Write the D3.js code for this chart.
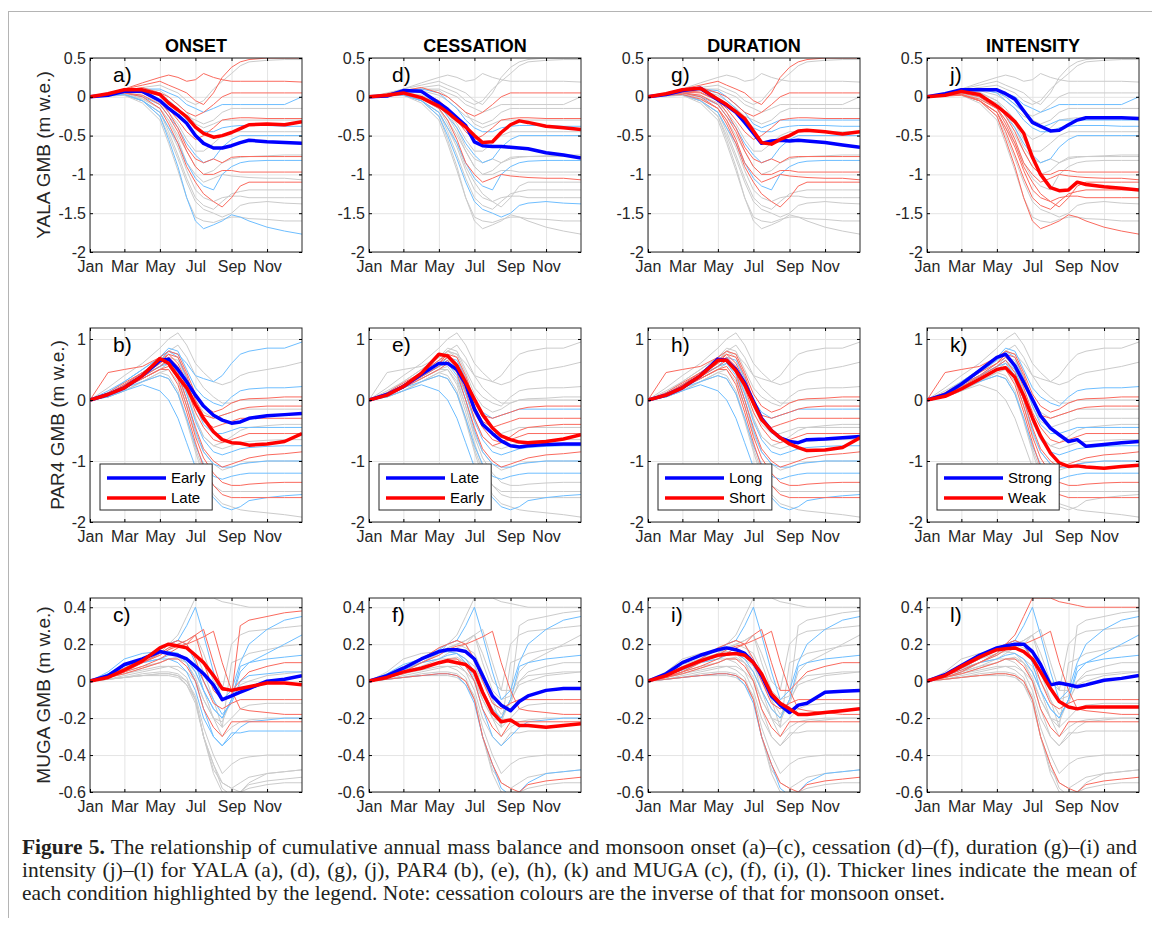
<!DOCTYPE html>
<html>
<head>
<meta charset="utf-8">
<script src="https://cdn.jsdelivr.net/npm/d3@7"></script>
<style>
    body { margin: 0; background: #fff; }
    svg text { font-family: "Liberation Sans", Arial, sans-serif; }
    svg text.cap { font-family: "Liberation Serif", "Times New Roman", serif; }
</style>
</head>
<body>
<svg id="fig" width="1152" height="926"></svg>
<script>

// sample days (day of year) shared by every series
var days = [ 1, 32, 60, 91, 121, 136, 152, 167, 182, 196, 213, 228, 244, 259, 274, 305, 335, 365 ];

var tickDays = [ 1, 60, 121, 182, 244, 305 ];
var monthLabels = [ 'Jan', 'Mar', 'May', 'Jul', 'Sep', 'Nov' ];

var glaciers = [ 'YALA', 'PAR4', 'MUGA' ];
var conditions = [ 'ONSET', 'CESSATION', 'DURATION', 'INTENSITY' ];
var panelLetters = [ [ 'a)', 'd)', 'g)', 'j)' ], [ 'b)', 'e)', 'h)', 'k)' ], [ 'c)', 'f)', 'i)', 'l)' ] ];
var legendBlue = [ 'Early', 'Late', 'Long', 'Strong' ];
var legendRed = [ 'Late', 'Early', 'Short', 'Weak' ];

var yTicks = [ [ 0.5, 0, -0.5, -1, -1.5, -2 ], [ 1, 0, -1, -2 ], [ 0.4, 0.2, 0, -0.2, -0.4, -0.6 ] ];
var yLimits = [ [ -2, 0.5 ], [ -2, 1.18 ], [ -0.6, 0.45 ] ];

// individual years, one row per year
var yalaYears = [
    [ 0, 0.03, 0.08, 0.12, 0.15, 0.1, 0.05, -0.05, -0.1, -0.05, 0.1, 0.2, 0.3, 0.4, 0.45, 0.47, 0.48, 0.48 ],
    [ 0, 0.05, 0.1, 0.15, 0.2, 0.15, 0.1, 0.05, -0.05, -0.1, 0.05, 0.25, 0.38, 0.45, 0.48, 0.5, 0.5, 0.5 ],
    [ 0, 0.04, 0.1, 0.18, 0.25, 0.28, 0.25, 0.2, 0.22, 0.3, 0.25, 0.22, 0.2, 0.2, 0.2, 0.2, 0.2, 0.19 ],
    [ 0, 0.03, 0.08, 0.12, 0.05, 0, -0.1, -0.2, -0.25, -0.2, -0.1, 0, 0.05, 0.05, 0.05, 0.05, 0.05, 0.05 ],
    [ 0, 0.03, 0.06, 0.1, 0.1, 0.05, 0, -0.1, -0.15, -0.2, -0.15, -0.1, -0.1, -0.1, -0.1, -0.1, -0.1, 0 ],
    [ 0, 0.02, 0.05, 0.08, 0.02, -0.05, -0.15, -0.25, -0.3, -0.35, -0.3, -0.2, -0.15, -0.15, -0.15, -0.15, -0.15, -0.15 ],
    [ 0, 0.03, 0.08, 0.1, 0.05, -0.05, -0.15, -0.3, -0.4, -0.45, -0.45, -0.4, -0.38, -0.37, -0.37, -0.37, -0.38, -0.38 ],
    [ 0, 0.04, 0.08, 0.06, -0.05, -0.15, -0.3, -0.45, -0.55, -0.5, -0.4, -0.3, -0.28, -0.27, -0.27, -0.28, -0.28, -0.28 ],
    [ 0, 0.02, 0.05, 0.02, -0.08, -0.2, -0.35, -0.55, -0.7, -0.7, -0.6, -0.5, -0.45, -0.45, -0.45, -0.45, -0.45, -0.45 ],
    [ 0, 0.03, 0.05, 0, -0.1, -0.25, -0.4, -0.6, -0.75, -0.85, -0.8, -0.65, -0.55, -0.5, -0.5, -0.5, -0.5, -0.5 ],
    [ 0, 0.02, 0.04, -0.02, -0.15, -0.3, -0.5, -0.7, -0.9, -1.0, -0.95, -0.85, -0.8, -0.78, -0.77, -0.76, -0.75, -0.75 ],
    [ 0, 0.03, 0.06, 0.05, -0.05, -0.2, -0.4, -0.65, -0.8, -0.85, -0.8, -0.85, -0.78, -0.77, -0.77, -0.77, -0.77, -0.77 ],
    [ 0, 0.02, 0.03, -0.05, -0.2, -0.4, -0.6, -0.85, -1.05, -1.15, -1.2, -1.0, -0.9, -0.85, -0.83, -0.82, -0.82, -0.82 ],
    [ 0, 0.03, 0.05, 0.02, -0.1, -0.25, -0.45, -0.7, -0.9, -1.0, -1.0, -0.95, -0.95, -0.97, -0.97, -0.97, -0.97, -0.97 ],
    [ 0, 0.02, 0.03, -0.03, -0.15, -0.3, -0.55, -0.85, -1.0, -1.1, -1.05, -1.0, -1.02, -1.03, -1.04, -1.05, -1.05, -1.07 ],
    [ 0, 0.03, 0.05, 0, -0.15, -0.35, -0.6, -0.9, -1.1, -1.25, -1.35, -1.42, -1.3, -1.15, -1.1, -1.1, -1.1, -1.1 ],
    [ 0, 0.02, 0.03, -0.05, -0.2, -0.45, -0.75, -1.05, -1.3, -1.4, -1.45, -1.35, -1.25, -1.22, -1.2, -1.2, -1.2, -1.2 ],
    [ 0, 0.02, 0.02, -0.05, -0.25, -0.5, -0.8, -1.1, -1.35, -1.45, -1.5, -1.55, -1.5, -1.4, -1.37, -1.35, -1.37, -1.38 ],
    [ 0, 0.01, 0.02, -0.08, -0.3, -0.6, -0.95, -1.3, -1.55, -1.6, -1.62, -1.58, -1.55, -1.55, -1.57, -1.58, -1.6, -1.6 ],
    [ 0, 0.02, 0.03, -0.05, -0.25, -0.55, -0.9, -1.3, -1.6, -1.7, -1.65, -1.6, -1.52, -1.55, -1.6, -1.68, -1.73, -1.77 ],
    [ 0, 0.03, 0.07, 0.1, 0.08, 0, -0.1, -0.2, -0.35, -0.4, -0.35, -0.3, -0.3, -0.3, -0.3, -0.3, -0.3, -0.3 ],
    [ 0, 0.01, 0.02, -0.05, -0.2, -0.4, -0.65, -0.95, -1.2, -1.3, -1.35, -1.3, -1.28, -1.28, -1.3, -1.3, -1.3, -1.3 ]
];

var par4Years = [
    [ 0, 0.15, 0.3, 0.5, 0.7, 0.8, 0.75, 0.6, 0.4, 0.35, 0.3, 0.4, 0.6, 0.75, 0.8, 0.85, 0.85, 0.95 ],
    [ 0, 0.2, 0.4, 0.6, 0.85, 1.0, 1.1, 0.9, 0.6, 0.45, 0.3, 0.25, 0.3, 0.4, 0.45, 0.5, 0.55, 0.62 ],
    [ 0, 0.12, 0.3, 0.5, 0.7, 0.85, 0.8, 0.5, 0.2, 0.05, -0.05, -0.1, 0.05, 0.15, 0.18, 0.2, 0.2, 0.22 ],
    [ 0, 0.45, 0.5, 0.55, 0.7, 0.8, 0.75, 0.45, 0.1, -0.1, -0.2, -0.15, -0.05, 0, 0.02, 0.03, 0.05, 0.05 ],
    [ 0, 0.1, 0.25, 0.4, 0.6, 0.8, 0.9, 0.7, 0.4, 0.2, 0.05, -0.05, -0.05, 0, 0, 0, 0, 0 ],
    [ 0, 0.1, 0.2, 0.4, 0.55, 0.7, 0.65, 0.35, 0, -0.2, -0.3, -0.25, -0.2, -0.15, -0.15, -0.15, -0.15, -0.15 ],
    [ 0, 0.08, 0.25, 0.45, 0.65, 0.75, 0.6, 0.3, -0.1, -0.35, -0.45, -0.4, -0.35, -0.3, -0.3, -0.3, -0.3, -0.3 ],
    [ 0, 0.1, 0.25, 0.45, 0.65, 0.8, 0.7, 0.35, -0.1, -0.4, -0.55, -0.55, -0.5, -0.45, -0.45, -0.45, -0.45, -0.45 ],
    [ 0, 0.1, 0.25, 0.4, 0.6, 0.7, 0.55, 0.2, -0.2, -0.45, -0.65, -0.7, -0.65, -0.6, -0.55, -0.55, -0.55, -0.55 ],
    [ 0, 0.08, 0.2, 0.35, 0.5, 0.6, 0.45, 0.1, -0.3, -0.6, -0.75, -0.8, -0.75, -0.7, -0.68, -0.66, -0.65, -0.65 ],
    [ 0, 0.1, 0.25, 0.4, 0.55, 0.65, 0.5, 0.1, -0.35, -0.65, -0.85, -0.9, -0.85, -0.8, -0.78, -0.76, -0.75, -0.75 ],
    [ 0, 0.1, 0.22, 0.38, 0.55, 0.65, 0.45, 0, -0.45, -0.8, -1.0, -1.1, -1.05, -1.0, -0.95, -0.9, -0.88, -0.85 ],
    [ 0, 0.05, 0.15, 0.3, 0.45, 0.5, 0.3, -0.1, -0.55, -0.85, -1.05, -1.15, -1.1, -1.05, -1.02, -1.0, -1.0, -1.0 ],
    [ 0, 0.1, 0.2, 0.3, 0.4, 0.35, 0.1, -0.3, -0.75, -1.05, -1.25, -1.3, -1.25, -1.22, -1.2, -1.2, -1.2, -1.2 ],
    [ 0, 0.08, 0.2, 0.35, 0.5, 0.55, 0.35, -0.1, -0.6, -0.95, -1.2, -1.35, -1.4, -1.4, -1.38, -1.36, -1.35, -1.35 ],
    [ 0, 0.05, 0.15, 0.3, 0.45, 0.4, 0.15, -0.3, -0.8, -1.15, -1.4, -1.5, -1.5, -1.5, -1.5, -1.5, -1.5, -1.5 ],
    [ 0, 0.08, 0.2, 0.35, 0.5, 0.5, 0.25, -0.2, -0.7, -1.1, -1.4, -1.55, -1.6, -1.6, -1.6, -1.6, -1.6, -1.6 ],
    [ 0, 0.05, 0.15, 0.25, 0.15, 0, -0.3, -0.7, -1.1, -1.4, -1.6, -1.75, -1.8, -1.75, -1.65, -1.6, -1.57, -1.55 ],
    [ 0, 0.05, 0.15, 0.3, 0.4, 0.35, 0.1, -0.35, -0.85, -1.25, -1.55, -1.7, -1.75, -1.8, -1.82, -1.85, -1.88, -1.92 ],
    [ 0, 0.1, 0.2, 0.35, 0.5, 0.6, 0.5, 0.15, -0.3, -0.6, -0.75, -0.7, -0.6, -0.5, -0.45, -0.42, -0.4, -0.4 ],
    [ 0, 0.12, 0.28, 0.45, 0.6, 0.75, 0.7, 0.4, 0, -0.25, -0.3, -0.25, -0.2, -0.15, -0.12, -0.1, -0.1, -0.1 ],
    [ 0, 0.1, 0.22, 0.38, 0.55, 0.6, 0.4, 0, -0.5, -0.85, -1.05, -1.1, -1.1, -1.05, -1.03, -1.0, -1.0, -1.0 ]
];

var mugaYears = [
    [ 0, 0.02, 0.05, 0.1, 0.15, 0.18, 0.2, 0.22, 0.25, 0.1, -0.05, -0.1, -0.08, 0.3, 0.33, 0.35, 0.37, 0.38 ],
    [ 0, 0.03, 0.07, 0.12, 0.17, 0.2, 0.22, 0.3, 0.4, 0.25, 0.05, -0.1, -0.05, 0.1, 0.2, 0.28, 0.33, 0.35 ],
    [ 0, 0.03, 0.06, 0.1, 0.15, 0.2, 0.25, 0.35, 0.45, 0.45, 0.45, 0.43, 0.42, 0.41, 0.4, 0.4, 0.4, 0.4 ],
    [ 0, 0.04, 0.08, 0.12, 0.18, 0.2, 0.22, 0.2, 0.1, -0.05, -0.15, -0.2, -0.1, 0.05, 0.1, 0.15, 0.2, 0.25 ],
    [ 0, 0.02, 0.05, 0.1, 0.15, 0.18, 0.2, 0.18, 0.15, 0.05, -0.1, -0.25, 0.1, 0.12, 0.15, 0.17, 0.19, 0.2 ],
    [ 0, 0.03, 0.06, 0.1, 0.12, 0.14, 0.15, 0.12, 0.05, -0.05, -0.15, -0.2, -0.1, 0.08, 0.1, 0.12, 0.13, 0.14 ],
    [ 0, 0.02, 0.05, 0.08, 0.12, 0.15, 0.18, 0.2, 0.25, 0.28, 0.1, -0.05, -0.05, 0, 0.05, 0.08, 0.1, 0.1 ],
    [ 0, 0.02, 0.04, 0.07, 0.1, 0.12, 0.13, 0.1, 0.02, -0.1, -0.2, -0.22, -0.1, -0.02, 0, 0.03, 0.04, 0.05 ],
    [ 0, 0.03, 0.07, 0.12, 0.18, 0.2, 0.22, 0.2, 0.12, 0, -0.12, -0.15, -0.12, -0.1, -0.1, -0.1, -0.1, -0.1 ],
    [ 0, 0.01, 0.03, 0.05, 0.07, 0.08, 0.08, 0.05, 0, -0.1, -0.2, -0.25, -0.2, -0.15, -0.13, -0.12, -0.12, -0.12 ],
    [ 0, 0.04, 0.09, 0.12, 0.15, 0.16, 0.15, 0.1, 0, -0.15, -0.3, -0.35, -0.3, -0.25, -0.22, -0.21, -0.2, -0.2 ],
    [ 0, 0.02, 0.04, 0.07, 0.1, 0.12, 0.12, 0.08, 0, -0.15, -0.25, -0.3, -0.22, -0.22, -0.22, -0.22, -0.22, -0.22 ],
    [ 0, 0.03, 0.07, 0.1, 0.12, 0.12, 0.1, 0.05, -0.05, -0.2, -0.3, -0.35, -0.28, -0.28, -0.27, -0.27, -0.27, -0.27 ],
    [ 0, 0.01, 0.02, 0.04, 0.05, 0.05, 0.04, 0, -0.08, -0.25, -0.4, -0.5, -0.45, -0.42, -0.41, -0.4, -0.4, -0.4 ],
    [ 0, 0.02, 0.04, 0.06, 0.08, 0.08, 0.06, 0.02, -0.1, -0.3, -0.48, -0.55, -0.58, -0.55, -0.52, -0.5, -0.49, -0.48 ],
    [ 0, 0.01, 0.02, 0.03, 0.03, 0.03, 0.02, -0.02, -0.1, -0.3, -0.5, -0.6, -0.62, -0.6, -0.58, -0.56, -0.55, -0.55 ],
    [ 0, 0.02, 0.05, 0.1, 0.14, 0.17, 0.19, 0.2, 0.22, 0.24, 0.27, 0.1, -0.05, -0.15, -0.16, -0.17, -0.18, -0.18 ],
    [ 0, 0.05, 0.12, 0.15, 0.16, 0.16, 0.15, 0.12, 0.08, 0, -0.1, -0.18, -0.12, 0, 0.03, 0.04, 0.05, 0.05 ],
    [ 0, 0.02, 0.05, 0.08, 0.1, 0.12, 0.12, 0.1, 0.05, -0.05, -0.2, -0.3, -0.25, -0.22, -0.21, -0.2, -0.2, -0.2 ],
    [ 0, 0.03, 0.07, 0.1, 0.14, 0.17, 0.2, 0.22, 0.25, 0.15, 0, -0.05, 0.2, 0.25, 0.27, 0.28, 0.29, 0.3 ],
    [ 0, 0.01, 0.02, 0.03, 0.04, 0.04, 0.03, 0, -0.1, -0.3, -0.45, -0.55, -0.58, -0.6, -0.56, -0.54, -0.53, -0.52 ],
    [ 0, 0.01, 0.02, 0.03, 0.04, 0.04, 0.03, -0.02, -0.12, -0.3, -0.45, -0.58, -0.62, -0.6, -0.55, -0.5, -0.49, -0.48 ]
];

// which years are highlighted in each column (onset, cessation, duration, intensity)
var yalaBlueYears = [ [ 4, 6, 9, 12, 19 ], [ 6, 9, 12, 17 ], [ 6, 9, 12, 20 ], [ 4, 6, 20, 9 ] ];
var yalaRedYears = [ [ 1, 2, 3, 7, 11, 13, 15 ], [ 3, 7, 14 ], [ 1, 3, 7, 11, 13, 14, 15 ], [ 19, 15, 13, 14, 16, 21 ] ];
var par4BlueYears = [ [ 0, 2, 7, 10, 13, 17, 21 ], [ 17, 10, 13, 21, 5 ], [ 17, 10, 13, 21, 5 ], [ 2, 7, 10, 13, 21 ] ];
var par4RedYears = [ [ 3, 6, 8, 11, 14, 16, 20 ], [ 6, 8, 11, 20, 19 ], [ 3, 6, 8, 11, 14, 16, 20 ], [ 3, 8, 11, 14, 16, 20 ] ];
var mugaBlueYears = [ [ 1, 3, 5, 10, 12, 17 ], [ 1, 5, 21, 10 ], [ 1, 5, 21 ], [ 1, 5, 3 ] ];
var mugaRedYears = [ [ 0, 6, 8, 11, 16 ], [ 20, 8, 11, 16 ], [ 6, 8, 11, 16, 20 ], [ 2, 20, 11, 8, 16 ] ];

// condition means (thick lines), one row per column
var yalaMeanBlue = [
    [ 0, 0.02, 0.07, 0.07, -0.05, -0.15, -0.24, -0.34, -0.5, -0.6, -0.66, -0.66, -0.63, -0.59, -0.56, -0.58, -0.59, -0.6 ],
    [ 0, 0.01, 0.08, 0.07, -0.08, -0.16, -0.27, -0.37, -0.58, -0.63, -0.64, -0.64, -0.65, -0.66, -0.67, -0.72, -0.75, -0.79 ],
    [ 0, 0.03, 0.08, 0.11, -0.04, -0.11, -0.2, -0.33, -0.47, -0.6, -0.57, -0.56, -0.57, -0.56, -0.57, -0.59, -0.62, -0.65 ],
    [ 0, 0.04, 0.09, 0.09, 0.09, 0.04, -0.03, -0.18, -0.33, -0.38, -0.44, -0.43, -0.36, -0.3, -0.27, -0.27, -0.27, -0.28 ]
];
var yalaMeanRed = [
    [ 0, 0.04, 0.09, 0.09, 0.03, -0.08, -0.17, -0.26, -0.39, -0.47, -0.52, -0.5, -0.46, -0.41, -0.36, -0.35, -0.36, -0.32 ],
    [ 0, 0.02, 0.05, -0.01, -0.12, -0.2, -0.3, -0.39, -0.5, -0.59, -0.58, -0.46, -0.36, -0.31, -0.33, -0.38, -0.4, -0.42 ],
    [ 0, 0.04, 0.09, 0.11, -0.03, -0.1, -0.19, -0.28, -0.44, -0.59, -0.61, -0.55, -0.5, -0.44, -0.43, -0.45, -0.48, -0.45 ],
    [ 0, 0.02, 0.07, 0.03, -0.12, -0.21, -0.32, -0.47, -0.78, -1.0, -1.17, -1.21, -1.2, -1.1, -1.13, -1.16, -1.18, -1.2 ]
];
var par4MeanBlue = [
    [ 0, 0.09, 0.2, 0.4, 0.65, 0.67, 0.5, 0.3, 0.08, -0.1, -0.25, -0.33, -0.38, -0.36, -0.3, -0.26, -0.24, -0.22 ],
    [ 0, 0.09, 0.22, 0.42, 0.6, 0.6, 0.5, 0.26, -0.15, -0.4, -0.55, -0.67, -0.75, -0.77, -0.75, -0.73, -0.72, -0.72 ],
    [ 0, 0.08, 0.2, 0.4, 0.67, 0.65, 0.5, 0.28, -0.02, -0.3, -0.5, -0.62, -0.68, -0.7, -0.65, -0.64, -0.62, -0.6 ],
    [ 0, 0.09, 0.26, 0.48, 0.7, 0.75, 0.56, 0.29, 0.01, -0.26, -0.46, -0.57, -0.68, -0.65, -0.76, -0.73, -0.7, -0.68 ]
];
var par4MeanRed = [
    [ 0, 0.09, 0.2, 0.4, 0.68, 0.6, 0.38, 0.2, -0.08, -0.3, -0.52, -0.65, -0.7, -0.71, -0.74, -0.72, -0.68, -0.55 ],
    [ 0, 0.08, 0.22, 0.44, 0.75, 0.72, 0.56, 0.29, 0.01, -0.24, -0.46, -0.59, -0.65, -0.69, -0.7, -0.68, -0.64, -0.57 ],
    [ 0, 0.08, 0.2, 0.4, 0.65, 0.65, 0.48, 0.25, -0.05, -0.32, -0.5, -0.62, -0.72, -0.78, -0.83, -0.82, -0.78, -0.62 ],
    [ 0, 0.06, 0.18, 0.34, 0.5, 0.53, 0.37, 0.07, -0.29, -0.59, -0.87, -1.03, -1.09, -1.08, -1.1, -1.12, -1.09, -1.07 ]
];
var mugaMeanBlue = [
    [ 0, 0.03, 0.09, 0.12, 0.16, 0.15, 0.14, 0.12, 0.08, 0.04, -0.02, -0.1, -0.08, -0.06, -0.04, 0, 0.01, 0.03 ],
    [ 0, 0.03, 0.07, 0.12, 0.16, 0.17, 0.17, 0.16, 0.12, 0.03, -0.08, -0.13, -0.16, -0.11, -0.08, -0.05, -0.04, -0.04 ],
    [ 0, 0.04, 0.1, 0.14, 0.17, 0.18, 0.17, 0.15, 0.1, 0.03, -0.08, -0.13, -0.17, -0.13, -0.12, -0.06, -0.055, -0.05 ],
    [ 0, 0.035, 0.085, 0.14, 0.18, 0.19, 0.2, 0.2, 0.16, 0.09, -0.02, -0.01, -0.02, -0.03, -0.02, 0.005, 0.015, 0.03 ]
];
var mugaMeanRed = [
    [ 0, 0.02, 0.06, 0.11, 0.18, 0.2, 0.19, 0.18, 0.14, 0.1, 0.03, -0.04, -0.05, -0.04, -0.03, -0.01, -0.01, -0.02 ],
    [ 0, 0.02, 0.05, 0.07, 0.1, 0.11, 0.1, 0.09, 0.05, -0.06, -0.17, -0.22, -0.21, -0.24, -0.24, -0.25, -0.24, -0.23 ],
    [ 0, 0.03, 0.07, 0.11, 0.14, 0.145, 0.15, 0.14, 0.1, 0.04, -0.07, -0.12, -0.15, -0.18, -0.18, -0.17, -0.16, -0.15 ],
    [ 0, 0.03, 0.08, 0.13, 0.17, 0.175, 0.18, 0.16, 0.12, 0.05, -0.04, -0.11, -0.14, -0.15, -0.14, -0.14, -0.14, -0.14 ]
];

var captionLines = [
    [ 'Figure 5.', ' The relationship of cumulative annual mass balance and monsoon onset (a)\u2013(c), cessation (d)\u2013(f), duration (g)\u2013(i) and' ],
    [ '', 'intensity (j)\u2013(l) for YALA (a), (d), (g), (j), PAR4 (b), (e), (h), (k) and MUGA (c), (f), (i), (l). Thicker lines indicate the mean of' ],
    [ '', 'each condition highlighted by the legend. Note: cessation colours are the inverse of that for monsoon onset.' ]
];

var yearsByRow = [ yalaYears, par4Years, mugaYears ];
var blueByRow = [ yalaBlueYears, par4BlueYears, mugaBlueYears ];
var redByRow = [ yalaRedYears, par4RedYears, mugaRedYears ];
var meanBlueByRow = [ yalaMeanBlue, par4MeanBlue, mugaMeanBlue ];
var meanRedByRow = [ yalaMeanRed, par4MeanRed, mugaMeanRed ];

var svg = d3.select('#fig');

var colLeft = [ 90, 369, 648, 927 ];
var rowTop = [ 58, 328, 598 ];
var W = 212, H = 194;
var ylabelX = [ 43, 57, 43 ];

var grey = '#cbcbcb', lightBlue = '#6ebeff', lightRed = '#fa6a5e';
var ink = '#262626';

// frame of the figure
svg.append('line').attr('x1', 8).attr('x2', 1152).attr('y1', 11.5).attr('y2', 11.5)
    .style('stroke', '#b4b4b4').style('stroke-width', 1);
svg.append('line').attr('x1', 8.5).attr('x2', 8.5).attr('y1', 11).attr('y2', 918)
    .style('stroke', '#b4b4b4').style('stroke-width', 1);

var x = d3.scaleLinear().domain([ 1, 365 ]).range([ 0, W ]);

glaciers.forEach(function ( glacier, r ) {

    var y = d3.scaleLinear().domain( yLimits[r] ).range([ H, 0 ]);

    var line = d3.line()
        .x(function ( d, i ) { return x( days[i] ); })
        .y(function ( d ) { return y( d ); });

    conditions.forEach(function ( cond, c ) {

        var g = svg.append('g')
            .attr('transform', 'translate(' + colLeft[c] + ',' + rowTop[r] + ')');

        var clipId = 'clip' + r + c;
        g.append('clipPath').attr('id', clipId)
            .append('rect').attr('width', W).attr('height', H);

        // grid
        g.append('g')
            .call( d3.axisBottom(x).tickValues(tickDays).tickSize(H).tickFormat('') )
            .call(function ( s ) { s.select('.domain').remove(); })
            .selectAll('line').style('stroke', '#e4e4e4');
        g.append('g')
            .call( d3.axisRight(y).tickValues(yTicks[r]).tickSize(W).tickFormat('') )
            .call(function ( s ) { s.select('.domain').remove(); })
            .selectAll('line').style('stroke', '#e4e4e4');

        var plot = g.append('g').attr('clip-path', 'url(#' + clipId + ')');

        var years = yearsByRow[r];
        var blue = blueByRow[r][c];
        var red = redByRow[r][c];

        var greyYears = years.filter(function ( d, i ) {
            return blue.indexOf(i) < 0 && red.indexOf(i) < 0;
        });

        plot.selectAll('.grey').data( greyYears ).enter().append('path')
            .attr('d', line)
            .style('fill', 'none').style('stroke', grey).style('stroke-width', 1);

        plot.selectAll('.lblue').data( blue.map(function ( i ) { return years[i]; }) ).enter().append('path')
            .attr('d', line)
            .style('fill', 'none').style('stroke', lightBlue).style('stroke-width', 1);

        plot.selectAll('.lred').data( red.map(function ( i ) { return years[i]; }) ).enter().append('path')
            .attr('d', line)
            .style('fill', 'none').style('stroke', lightRed).style('stroke-width', 1);

        plot.append('path').datum( meanBlueByRow[r][c] )
            .attr('d', line)
            .style('fill', 'none').style('stroke', '#0000ff').style('stroke-width', 3.5)
            .style('stroke-linejoin', 'round');

        plot.append('path').datum( meanRedByRow[r][c] )
            .attr('d', line)
            .style('fill', 'none').style('stroke', '#ff0000').style('stroke-width', 3.5)
            .style('stroke-linejoin', 'round');

        // box
        g.append('rect').attr('width', W).attr('height', H)
            .style('fill', 'none').style('stroke', ink).style('stroke-width', 1);

        // axes, MATLAB style inward ticks
        var xa = g.append('g').attr('transform', 'translate(0,' + H + ')')
            .call( d3.axisBottom(x).tickValues(tickDays)
                .tickFormat(function ( d, i ) { return monthLabels[i]; })
                .tickSize(-3).tickPadding(9) );
        var ya = g.append('g')
            .call( d3.axisLeft(y).tickValues(yTicks[r])
                .tickFormat(function ( d ) { return String(d); })
                .tickSize(-3).tickPadding(4) );
        g.append('g').call( d3.axisTop(x).tickValues(tickDays).tickFormat('').tickSize(-3) );
        g.append('g').attr('transform', 'translate(' + W + ',0)')
            .call( d3.axisRight(y).tickValues(yTicks[r]).tickFormat('').tickSize(-3) );

        g.selectAll('.domain').remove();
        [ xa, ya ].forEach(function ( a ) {
            a.selectAll('text').style('font-size', '16px').style('fill', ink);
        });

        // panel letter
        g.append('text')
            .attr('x', 23).attr('y', 24)
            .style('font-size', '21px').style('fill', '#000')
            .text( panelLetters[r][c] );

        if ( r === 0 ) {
            g.append('text')
                .attr('x', W / 2).attr('y', -6)
                .attr('text-anchor', 'middle')
                .style('font-size', '18px').style('font-weight', 'bold').style('fill', '#000')
                .text( cond );
        }

        if ( c === 0 ) {
            svg.append('text')
                .attr('transform', 'translate(' + ylabelX[r] + ',' + ( rowTop[r] + H / 2 ) + ') rotate(-90)')
                .attr('text-anchor', 'middle')
                .attr('dy', '0.35em')
                .style('font-size', '19px').style('fill', ink)
                .text( glacier + ' GMB (m w.e.)' );
        }

        // legend in the middle row
        if ( r === 1 ) {

            var lg = g.append('g').attr('transform', 'translate(10,136)');
            var box = lg.append('rect').attr('height', 46)
                .style('fill', '#fff').style('stroke', ink).style('stroke-width', 1);

            var entries = [ [ legendBlue[c], '#0000ff' ], [ legendRed[c], '#ff0000' ] ];
            var maxW = 0;

            entries.forEach(function ( e, k ) {
                var yy = 14 + k * 20;
                lg.append('line').attr('x1', 7).attr('x2', 66).attr('y1', yy).attr('y2', yy)
                    .style('stroke', e[1]).style('stroke-width', 3.5);
                var t = lg.append('text').attr('x', 71).attr('y', yy).attr('dy', '0.36em')
                    .style('font-size', '15px').style('fill', '#000')
                    .text( e[0] );
                maxW = Math.max( maxW, t.node().getComputedTextLength() );
            });

            box.attr('width', 71 + maxW + 7);

        }

    });

});

// caption, last line sets the size, first two are justified by word spacing
var capFont = 17;
var cap = svg.append('g');

var probe = cap.append('text').attr('class', 'cap').style('font-size', capFont + 'px').text( captionLines[2][1] );
capFont = capFont * 923 / probe.node().getComputedTextLength();
probe.remove();

captionLines.forEach(function ( l, i ) {

    var t = cap.append('text').attr('class', 'cap')
        .attr('x', 22).attr('y', 854 + i * 23)
        .style('font-size', capFont + 'px').style('fill', '#231f20');

    if ( l[0] ) t.append('tspan').style('font-weight', 'bold').text( l[0] );
    t.append('tspan').text( l[1] );

    if ( i < 2 ) {
        var natural = t.node().getComputedTextLength();
        var spaces = ( l[0] + l[1] ).split(' ').length - 1;
        t.style('word-spacing', ( ( 1115 - natural ) / spaces ) + 'px');
    }

});

</script>
</body>
</html>
